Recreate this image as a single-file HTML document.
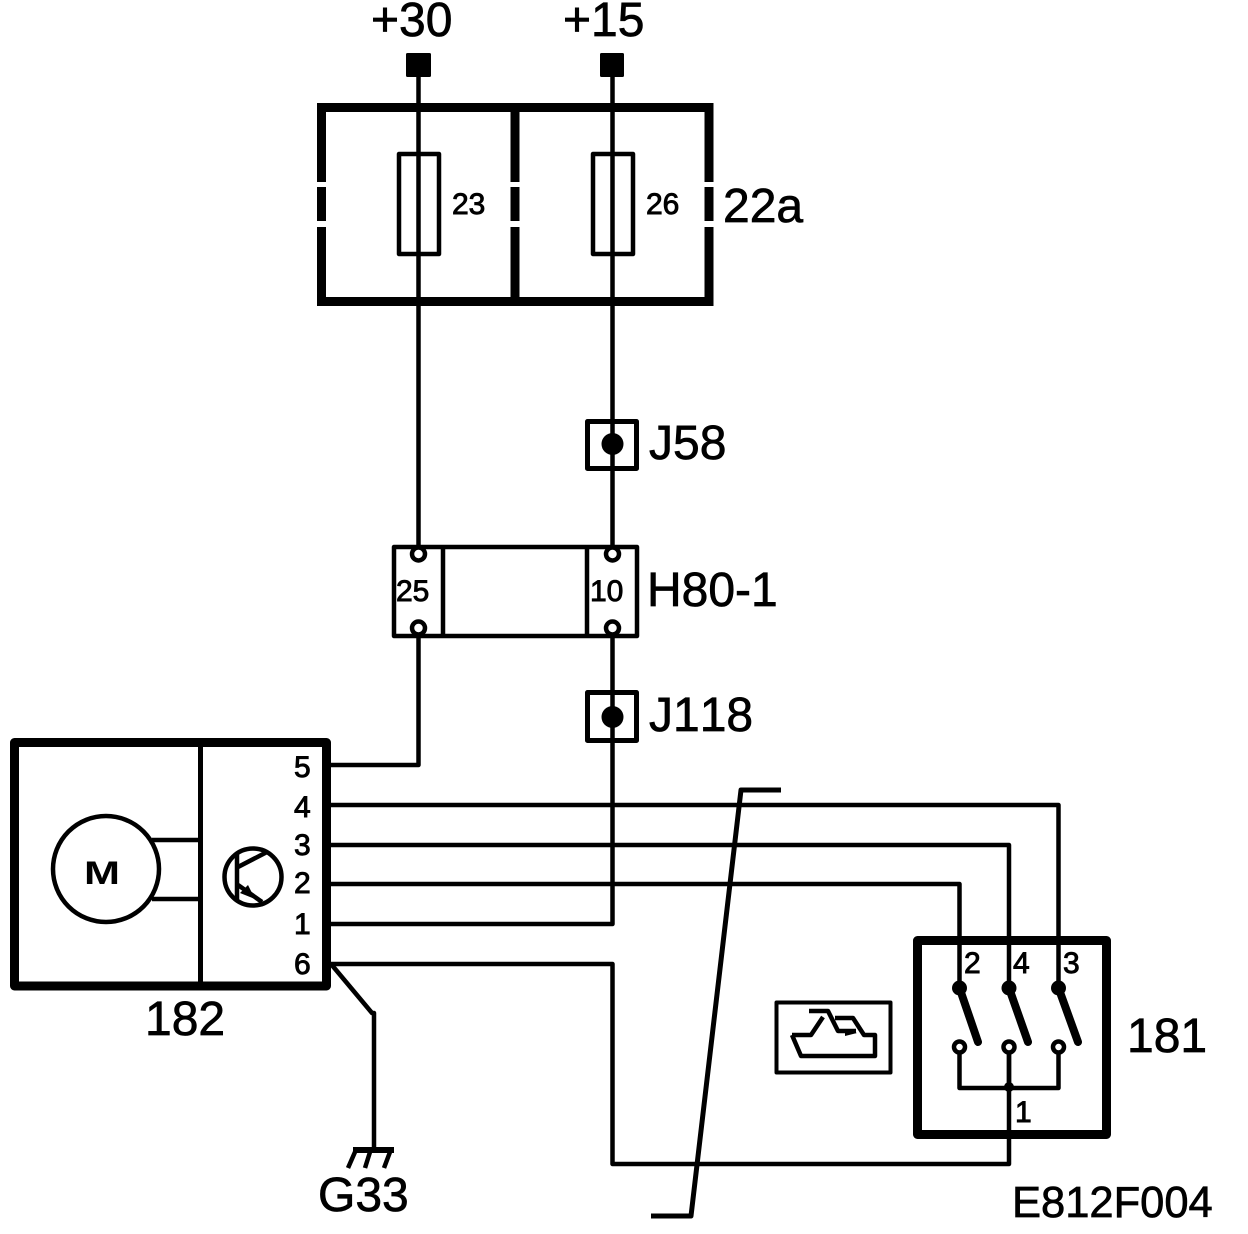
<!DOCTYPE html>
<html>
<head>
<meta charset="utf-8">
<style>
html,body{margin:0;padding:0;background:#fff;}
svg{display:block;}
text{font-family:"Liberation Sans",sans-serif;fill:#000;stroke:#000;stroke-width:.7px;font-kerning:none;}
.b{font-size:48px;}
.s{font-size:30px;stroke-width:.9px;}
</style>
</head>
<body>
<svg width="1248" height="1234" viewBox="0 0 1248 1234" xmlns="http://www.w3.org/2000/svg">
<rect width="1248" height="1234" fill="#fff"/>
<g fill="none" stroke="#000" stroke-width="4.500" stroke-linejoin="round">
  <!-- main wires -->
  <path d="M418.500 65V546M612.500 65V546"/>
  <path d="M418.500 636V765H331"/>
  <path d="M612.500 636V924H331"/>
  <path d="M331 805H1058.500V988"/>
  <path d="M331 845H1009V988"/>
  <path d="M331 884H959.500V988"/>
  <path d="M331 964H612.500V1164H1009V1047"/>
  <path d="M331 964L372 1013H374V1150"/>
  <path d="M781 790H741L691 1216H651" stroke-width="5"/>

  <!-- fuse box -->
  <g stroke-width="9">
    <path d="M317 107.500H713M317 301.500H713"/>
    <path d="M321.500 103V182M321.500 187V221M321.500 227V306"/>
    <path d="M515 103V182M515 187V221M515 227V306"/>
    <path d="M709 103V182M709 187V221M709 227V306"/>
  </g>
  <rect x="399" y="154" width="40" height="100"/>
  <rect x="593" y="154" width="40" height="100"/>

  <!-- H80-1 -->
  <rect x="394" y="547" width="243" height="89"/>
  <path d="M443 547V636M587 547V636"/>

  <!-- splices -->
  <rect x="587.500" y="421.500" width="49" height="47" stroke-width="5"/>
  <rect x="587.500" y="692.500" width="49" height="48" stroke-width="5"/>

  <!-- 182 -->
  <rect x="14.500" y="742.500" width="312" height="243.500" stroke-width="9"/>
  <path d="M200.500 745V983" stroke-width="5"/>
  <circle cx="106" cy="869" r="53"/>
  <path d="M152 840H200M152 899H200"/>
  <circle cx="253" cy="877" r="28.500"/>
  <path d="M237 853V900"/>
  <path d="M238 867L267 852"/>
  <path d="M238 885L262 902"/>

  <!-- ground -->
  <path d="M353 1150H394" stroke-width="6"/>
  <path d="M355 1152L348 1168M370 1152L365 1168M390 1152L384 1168"/>

  <!-- 181 -->
  <rect x="917.500" y="940.500" width="189" height="194" stroke-width="9"/>
  <path d="M959.500 1053V1088H1058.500V1053M1009 1053V1088"/>
  <g stroke-width="8" stroke-linecap="round">
    <path d="M959.500 988L978 1042M1009 988L1028 1042M1058.500 988L1078 1042"/>
  </g>

  <!-- icon -->
  <rect x="776.500" y="1002.500" width="114" height="70" stroke-width="4"/>
  <path d="M792 1035H811L823 1017M809 1011H828L838 1031H856M835 1018H853L864 1035H875V1056H801L792 1035"/>
</g>
<g fill="#000" stroke="none">
  <rect x="406" y="53" width="25" height="24" rx="1.500"/>
  <rect x="600" y="53" width="24" height="24" rx="1.500"/>
  <circle cx="612.500" cy="444" r="11"/>
  <circle cx="612.500" cy="717" r="11"/>
  <path d="M240 893L248 885L255 899Z"/>
  <circle cx="959.500" cy="988" r="7.500"/>
  <circle cx="1009" cy="988" r="7.500"/>
  <circle cx="1058.500" cy="988" r="7.500"/>
  <circle cx="1009" cy="1087" r="5"/>
  <path d="M845 1029L857 1033L845 1036Z"/>
</g>
<g fill="#fff" stroke="#000" stroke-width="4.500">
  <circle cx="418.500" cy="554" r="6.500"/>
  <circle cx="612.500" cy="554" r="6.500"/>
  <circle cx="418.500" cy="628" r="6.500"/>
  <circle cx="612.500" cy="628" r="6.500"/>
  <circle cx="959.500" cy="1047" r="5.500"/>
  <circle cx="1009" cy="1047" r="5.500"/>
  <circle cx="1058.500" cy="1047" r="5.500"/>
</g>

<!-- labels -->
<text class="b" x="371" y="36">+30</text>
<text class="b" x="563" y="36">+15</text>
<text class="b" x="723" y="222">22a</text>
<text class="b" x="649" y="459">J58</text>
<text class="b" x="647" y="606">H80-1</text>
<text class="b" x="649" y="731">J118</text>
<text class="b" x="145" y="1035">182</text>
<text class="b" x="1127" y="1052">181</text>
<text class="b" x="318" y="1211">G33</text>
<text x="1012" y="1217" style="font-size:43.500px">E812F004</text>

<text class="s" x="452" y="214">23</text>
<text class="s" x="646" y="214">26</text>
<text class="s" x="396" y="601">25</text>
<text class="s" x="590" y="601">10</text>
<text class="s" x="294" y="777">5</text>
<text class="s" x="294" y="817">4</text>
<text class="s" x="294" y="855">3</text>
<text class="s" x="294" y="893">2</text>
<text class="s" x="294" y="934">1</text>
<text class="s" x="294" y="974">6</text>
<text class="s" x="964" y="973">2</text>
<text class="s" x="1013" y="973">4</text>
<text class="s" x="1063" y="973">3</text>
<text class="s" x="1015" y="1122">1</text>
<text x="84" y="884" font-weight="bold" style="font-size:32px;stroke-width:0" textLength="36" lengthAdjust="spacingAndGlyphs">M</text>
</svg>
</body>
</html>
